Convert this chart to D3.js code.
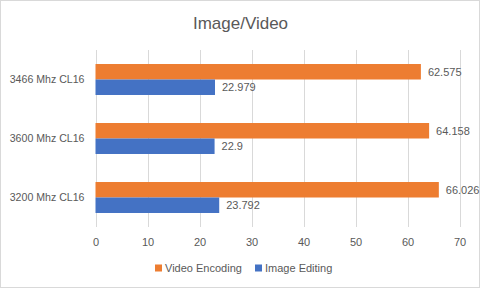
<!DOCTYPE html>
<html><head><meta charset="utf-8">
<script src="https://cdn.jsdelivr.net/npm/d3@7"></script>
<style>html,body{margin:0;padding:0;background:#fff;}svg{display:block;font-family:"Liberation Sans",Arial,sans-serif;}</style>
</head><body>
<svg id="c" width="481" height="289"></svg>
<script>
const categories = ["3466 Mhz CL16", "3600 Mhz CL16", "3200 Mhz CL16"];
const seriesNames = ["Video Encoding", "Image Editing"];
const videoEncoding = [62.575, 64.158, 66.026];
const imageEditing = [22.979, 22.9, 23.792];
const xTicks = [0, 10, 20, 30, 40, 50, 60, 70];
const colors = ["#ED7D31", "#4472C4"];

const svg = d3.select("#c");
const m = {left: 95.5, top: 50};
const textColor = "#595959";

svg.append("rect").attr("x",0.5).attr("y",0.5).attr("width",479).attr("height",287)
  .attr("fill","#fff").attr("stroke","#d9d9d9");

svg.append("text").attr("x",240.5).attr("y",29).attr("text-anchor","middle")
  .attr("font-size",17).attr("fill",textColor).text("Image/Video");

const x = d3.scaleLinear().domain([0,70]).range([m.left, 459.5]);
const y = d3.scaleBand().domain(categories).range([m.top, 227]).paddingInner(0.475).paddingOuter(0.2375);
const ySub = d3.scaleBand().domain(seriesNames).range([0, y.bandwidth()]);

svg.append("g").selectAll("line").data(xTicks).join("line")
  .attr("x1",d=>Math.round(x(d))+0.5).attr("x2",d=>Math.round(x(d))+0.5)
  .attr("y1",m.top).attr("y2",227).attr("stroke","#d9d9d9").attr("stroke-width",1);

const xAxis = d3.axisBottom(x).tickValues(xTicks).tickSize(0).tickPadding(0);
const gx = svg.append("g").attr("transform","translate(0,246)").call(xAxis);
gx.select(".domain").remove();
gx.selectAll("text").attr("font-size",11).attr("fill",textColor).attr("font-family","Liberation Sans, Arial, sans-serif").attr("dy","0");

const yAxis = d3.axisLeft(y).tickSize(0).tickPadding(11);
const gy = svg.append("g").attr("transform",`translate(${m.left},0)`).call(yAxis);
gy.select(".domain").remove();
gy.selectAll("text").attr("font-size",10.6).attr("fill",textColor).attr("font-family","Liberation Sans, Arial, sans-serif");

const data = categories.map((c,i)=>({cat:c, vals:[videoEncoding[i], imageEditing[i]]}));
const groups = svg.append("g").selectAll("g").data(data).join("g")
  .attr("transform",d=>`translate(0,${y(d.cat)})`);
groups.selectAll("rect").data(d=>d.vals.map((v,j)=>({v, s:seriesNames[j], j}))).join("rect")
  .attr("x",x(0)).attr("y",d=>ySub(d.s)).attr("width",d=>x(d.v)-x(0)).attr("height",ySub.bandwidth())
  .attr("fill",d=>colors[d.j]);
groups.selectAll("text").data(d=>d.vals.map((v,j)=>({v, s:seriesNames[j], j}))).join("text")
  .attr("x",d=>x(d.v)+7).attr("y",d=>ySub(d.s)+ySub.bandwidth()/2).attr("dy","0.35em")
  .attr("font-size",11).attr("fill",textColor).text(d=>d.v);

const legendX = [155, 255];
const lg = svg.append("g").selectAll("g").data(seriesNames).join("g")
  .attr("transform",(d,i)=>`translate(${legendX[i]},268)`);
lg.append("rect").attr("x",0).attr("y",-3.5).attr("width",7).attr("height",7).attr("fill",(d,i)=>colors[i]);
lg.append("text").attr("x",10).attr("y",0).attr("dy","0.35em").attr("font-size",11).attr("fill",textColor).text(d=>d);
</script>
</body></html>
